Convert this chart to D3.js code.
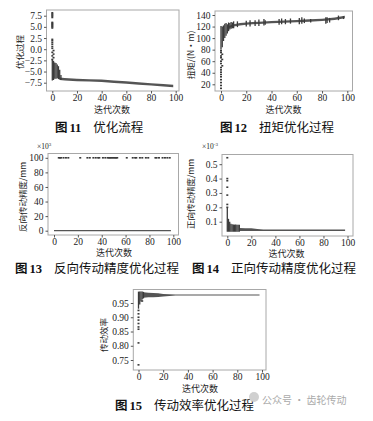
<!DOCTYPE html>
<html>
<head>
<meta charset="utf-8">
<script src="https://cdn.jsdelivr.net/npm/d3@7"></script>
<style>
  body { margin: 0; background: #fff; }
  text { font-family: "Liberation Serif", serif; }
  .cjk { font-family: "Noto Sans CJK SC", sans-serif; }
</style>
</head>
<body>
<svg width="373" height="421"></svg>
<script>
// shared x axis: iteration count
var iterTicks = [0, 20, 40, 60, 80, 100];

// Fig 11 - objective value
var f11YTicks = [-7.5, -5.0, -2.5, 0.0, 2.5, 5.0, 7.5];
var f11Pts = [[0, 8.15], [0, 7.9], [0, 7.65], [0, 7.4], [0, 7.1], [0, 6.0], [0, 5.8], [0, 5.6],
  [0, 5.4], [0, 5.2], [0, 5.0], [0, 4.75], [0, 2.2], [0, 1.9], [0, 1.5], [0, 1.1], [0, 0.6],
  [0, 0.2], [1, -0.3], [0, -0.7], [1, -1.1], [0, -1.5], [1, -1.9], [0, -2.3]];
var f11Bars = [[0, -7.0, -2.3], [1, -6.9, -2.6], [2, -6.6, -3.0], [3, -6.6, -3.1], [4, -6.5, -3.4],
  [5, -6.7, -3.8], [6, -6.8, -4.6], [7, -6.9, -5.8]];
var f11BandX = [6, 10, 20, 30, 40, 50, 60, 70, 80, 90, 98];
var f11BandLo = [-6.9, -7.0, -7.15, -7.25, -7.35, -7.55, -7.75, -7.95, -8.15, -8.35, -8.5];
var f11BandHi = [-6.35, -6.45, -6.6, -6.7, -6.8, -7.0, -7.2, -7.4, -7.6, -7.8, -7.95];

// Fig 12 - torque
var f12YTicks = [20, 40, 60, 80, 100, 120, 140];
var f12Pts = [[0, 13], [0, 18], [0, 23], [0, 28], [0, 33], [0, 37], [0, 41], [0, 45], [0, 49],
  [1, 52], [0, 56], [0, 60], [1, 63], [0, 66], [0, 69], [1, 72], [0, 75], [0, 78]];
var f12Bars = [[0, 80, 121], [1, 84, 120], [2, 95, 122], [3, 100, 125], [4, 104, 126], [5, 108, 124],
  [6, 112, 127], [7, 115, 126], [8, 116, 128], [9, 117, 127], [10, 117, 129], [13, 119, 129],
  [20, 120, 130], [23, 120, 131], [27, 121, 131], [30, 121, 132], [34, 122, 133], [35, 123, 131],
  [46, 123, 133], [48, 124, 134], [51, 124, 133], [55, 125, 134], [62, 124, 135], [64, 125, 136],
  [66, 126, 134], [71, 127, 133], [83, 125, 136], [84, 126, 136], [86, 127, 135], [93, 131, 139],
  [97, 133, 138]];
var f12BandX = [5, 10, 15, 20, 25, 30, 40, 50, 60, 70, 80, 90, 98];
var f12BandLo = [116, 120, 122, 123, 124, 124.5, 125.5, 126.5, 127.5, 128.5, 129.5, 131.5, 134.5];
var f12BandHi = [120, 124, 126, 127, 128, 128.5, 129.5, 130.5, 131.5, 132.5, 133.5, 135.5, 138.5];

// Fig 13 - reverse transmission accuracy (x10^3 mm)
var f13YTicks = [0, 20, 40, 60, 80, 100];
var f13TopX = [4, 5, 6, 8, 10, 12, 22, 28, 30, 33, 35, 37, 38, 41, 43, 45, 46, 47, 48, 49, 50, 51,
  52, 53, 61, 66, 68, 69, 72, 74, 77, 79, 85, 86, 88, 91, 93, 95, 97];
var f13TopVal = 100;
var f13BandX = [0, 98];
var f13BandLo = [-0.6, -0.6];
var f13BandHi = [0.8, 0.8];

// Fig 14 - forward transmission accuracy (x10^-3 mm)
var f14YTicks = [0.1, 0.2, 0.3, 0.4, 0.5];
var f14Pts = [[0, 0.545], [0, 0.40], [0, 0.385], [0, 0.34], [0, 0.285], [0, 0.22], [0, 0.2]];
var f14Bars = [[0, 0.03, 0.195], [1, 0.03, 0.12], [2, 0.03, 0.1], [3, 0.03, 0.085], [4, 0.03, 0.082],
  [5, 0.03, 0.08], [6, 0.03, 0.08], [7, 0.03, 0.08], [8, 0.03, 0.078], [9, 0.03, 0.078],
  [10, 0.03, 0.078]];
var f14BandX = [10, 15, 20, 25, 30, 40, 50, 60, 70, 80, 90, 98];
var f14BandLo = [0.035, 0.036, 0.036, 0.035, 0.035, 0.035, 0.035, 0.035, 0.035, 0.035, 0.035, 0.035];
var f14BandHi = [0.056, 0.055, 0.054, 0.05, 0.046, 0.045, 0.045, 0.045, 0.045, 0.045, 0.045, 0.045];

// Fig 15 - transmission efficiency
var f15YTicks = [0.75, 0.80, 0.85, 0.90, 0.95];
var f15Pts = [[0, 0.733], [0, 0.81], [0, 0.858], [0, 0.866], [0, 0.878], [0, 0.89], [0, 0.9],
  [0, 0.912], [0, 0.924], [3, 0.957]];
var f15Bars = [[0, 0.93, 0.99], [1, 0.945, 0.99], [2, 0.955, 0.99], [3, 0.962, 0.99], [4, 0.966, 0.989]];
var f15BandX = [4, 8, 12, 16, 20, 25, 30, 40, 50, 60, 70, 80, 90, 98];
var f15BandLo = [0.968, 0.97, 0.97, 0.971, 0.973, 0.975, 0.976, 0.976, 0.976, 0.976, 0.976, 0.976, 0.976, 0.976];
var f15BandHi = [0.988, 0.986, 0.985, 0.984, 0.982, 0.981, 0.98, 0.98, 0.98, 0.98, 0.98, 0.98, 0.98, 0.98];

var svg = d3.select("svg");
var ink = "#3a3a3a";

function panel(p) {
  var g = svg.append("g");
  var x = d3.scaleLinear().domain([0, 100]).range(p.xr);
  var y = d3.scaleLinear().domain(p.yd).range(p.yr);

  // band of the population across iterations
  var band = p.bandX.map(function (d, i) { return { x: d, lo: p.bandLo[i], hi: p.bandHi[i] }; });
  g.append("path")
    .datum(band)
    .attr("fill", "#555")
    .attr("d", d3.area().x(function (d) { return x(d.x); })
      .y0(function (d) { return y(d.lo); }).y1(function (d) { return y(d.hi); }));

  // spread of each early iteration
  g.selectAll(".bar").data(p.bars).enter().append("line")
    .attr("x1", function (d) { return x(d[0]); }).attr("x2", function (d) { return x(d[0]); })
    .attr("y1", function (d) { return y(d[1]); }).attr("y2", function (d) { return y(d[2]); })
    .attr("stroke", ink).attr("stroke-width", 1.3);

  // single points
  g.selectAll(".pt").data(p.pts).enter().append("rect")
    .attr("x", function (d) { return x(d[0]) - 1; })
    .attr("y", function (d) { return y(d[1]) - 0.8; })
    .attr("width", 2).attr("height", 1.6)
    .attr("fill", ink);

  // frame
  g.append("rect")
    .attr("x", p.box[0]).attr("y", p.box[1])
    .attr("width", p.box[2] - p.box[0]).attr("height", p.box[3] - p.box[1])
    .attr("fill", "none").attr("stroke", "#a8a8a8").attr("stroke-width", 1);

  var xa = g.append("g").attr("transform", "translate(0," + p.box[3] + ")")
    .call(d3.axisBottom(x).tickValues(iterTicks).tickSize(2.5).tickPadding(0.5).tickFormat(d3.format("d")));
  var ya = g.append("g").attr("transform", "translate(" + p.box[0] + ",0)")
    .call(d3.axisLeft(y).tickValues(p.yTicks).tickSize(2.5).tickPadding(2).tickFormat(d3.format(p.fmt)));
  [xa, ya].forEach(function (a) {
    a.select(".domain").remove();
    a.selectAll("line").attr("stroke", "#555");
    a.selectAll("text").attr("fill", "#222").style("font-size", "9.5px")
      .style("font-family", "'Liberation Serif', serif");
  });

  // axis titles
  g.append("text").attr("class", "cjk")
    .attr("x", p.xl[0]).attr("y", p.xl[1]).attr("text-anchor", "middle")
    .style("font-size", "9px").attr("fill", "#222").text("迭代次数");
  g.append("text").attr("class", "cjk")
    .attr("transform", "translate(" + p.yl[0] + "," + p.yl[1] + ") rotate(-90)")
    .attr("text-anchor", "middle").attr("dy", "0.35em")
    .style("font-size", "8.5px").attr("fill", "#222").text(p.ylabel);

  if (p.mult) {
    var m = g.append("text").attr("x", p.mult[0]).attr("y", p.mult[1])
      .style("font-size", "7.5px").attr("fill", "#222");
    m.append("tspan").text("×10");
    m.append("tspan").attr("dy", -3).style("font-size", "5px").text(p.mult[2]);
  }

  // caption
  var c = svg.append("text").attr("x", p.cap[0]).attr("y", p.cap[1])
    .style("font-size", "12.5px").attr("fill", "#111");
  c.append("tspan").attr("class", "cjk").style("font-weight", "bold").text("图");
  c.append("tspan").style("font-weight", "bold").attr("dx", 2).text(p.num);
  c.append("tspan").attr("class", "cjk").attr("dx", 12).text(p.title);

  return g;
}

panel({ box: [46.5, 10, 179, 91], xr: [52.3, 175.7], yd: [-7.5, 7.5], yr: [82.7, 15.7],
  yTicks: f11YTicks, fmt: ".1f", pts: f11Pts, bars: f11Bars,
  bandX: f11BandX, bandLo: f11BandLo, bandHi: f11BandHi,
  xl: [112, 112.5], yl: [20, 52], ylabel: "优化过程",
  cap: [55, 132], num: "11", title: "优化流程" });

panel({ box: [215, 11, 352.5, 91], xr: [221, 347.3], yd: [20, 140], yr: [84.3, 15],
  yTicks: f12YTicks, fmt: "d", pts: f12Pts, bars: f12Bars,
  bandX: f12BandX, bandLo: f12BandLo, bandHi: f12BandHi,
  xl: [283.5, 112.5], yl: [191.5, 55], ylabel: "扭矩/(N·m)",
  cap: [220, 132], num: "12", title: "扭矩优化过程" });

panel({ box: [48, 153.5, 178.5, 235], xr: [54, 173.3], yd: [0, 100], yr: [230.7, 157.8],
  yTicks: f13YTicks, fmt: "d", pts: f13TopX.map(function (d) { return [d, f13TopVal]; }), bars: [],
  bandX: f13BandX, bandLo: f13BandLo, bandHi: f13BandHi,
  xl: [114, 256], yl: [23, 197], ylabel: "反向传动精度/mm", mult: [37, 149, "3"],
  cap: [15, 273], num: "13", title: "反向传动精度优化过程" });

panel({ box: [222, 154.5, 353, 236], xr: [227.3, 347.5], yd: [0.1, 0.5], yr: [221.7, 164.2],
  yTicks: f14YTicks, fmt: ".1f", pts: f14Pts, bars: f14Bars,
  bandX: f14BandX, bandLo: f14BandLo, bandHi: f14BandHi,
  xl: [286.5, 256.5], yl: [191.5, 194], ylabel: "正向传动精度/mm", mult: [202, 149, "-3"],
  cap: [192, 273], num: "14", title: "正向传动精度优化过程" });

panel({ box: [133.3, 289.5, 266, 370], xr: [138.5, 262], yd: [0.75, 0.95], yr: [360, 303],
  yTicks: f15YTicks, fmt: ".2f", pts: f15Pts, bars: f15Bars,
  bandX: f15BandX, bandLo: f15BandLo, bandHi: f15BandHi,
  xl: [200, 392], yl: [104, 335], ylabel: "传动效率",
  cap: [115, 410], num: "15", title: "传动效率优化过程" });

// watermark
svg.append("circle").attr("cx", 254).attr("cy", 397).attr("r", 5).attr("fill", "#d0d0d0");
svg.append("text").attr("class", "cjk").attr("x", 262).attr("y", 404)
  .style("font-size", "10px").attr("fill", "#aaa").text("公众号 · 齿轮传动");
</script>
</body>
</html>
